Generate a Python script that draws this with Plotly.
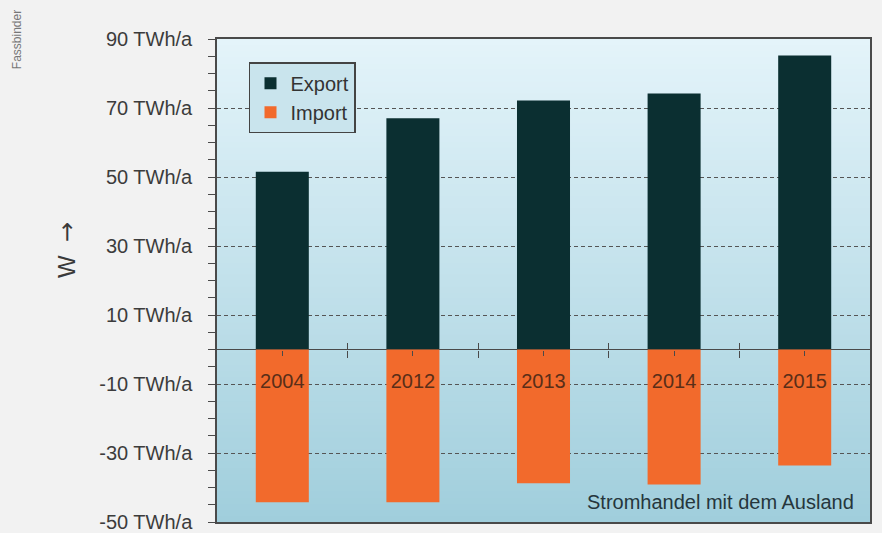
import plotly.graph_objects as go

years = ["2004", "2012", "2013", "2014", "2015"]
export_twh = [51.5, 67.0, 72.2, 74.2, 85.2]
import_twh = [-44.3, -44.3, -38.8, -39.1, -33.6]
ytick_vals = [90, 70, 50, 30, 10, -10, -30, -50]
ytick_text = ["%d TWh/a" % v for v in ytick_vals]
boundaries = [0.5, 1.5, 2.5, 3.5]

FONT = "Liberation Sans, Arial, Helvetica, sans-serif"
EXPORT_C = "#0b2f31"
IMPORT_C = "#f26a2c"
AX_C = "#4a4a4a"

ymin, ymax = -50, 90
zero_pos = (0 - ymin) / (ymax - ymin)

fig = go.Figure()
fig.add_trace(go.Bar(x=years, y=export_twh, name="Export",
                     marker=dict(color=EXPORT_C, line=dict(width=0))))
fig.add_trace(go.Bar(x=years, y=import_twh, name="Import",
                     marker=dict(color=IMPORT_C, line=dict(width=0))))
for ax in ["x2", "x3", "x4"]:
    fig.add_trace(go.Scatter(x=[], y=[], xaxis=ax, yaxis="y",
                             showlegend=False, hoverinfo="skip"))

# vertical gradient background of plot area
N = 80
top = (228, 244, 250)
bot = (160, 206, 220)
shapes = []
for i in range(N):
    t = (i + 0.5) / N  # 0 bottom -> 1 top
    c = tuple(int(round(bot[k] + (top[k] - bot[k]) * t)) for k in range(3))
    shapes.append(dict(type="rect", xref="paper", yref="paper",
                       x0=0, x1=1, y0=i / N, y1=(i + 1) / N + 0.002,
                       fillcolor="rgb(%d,%d,%d)" % c, line=dict(width=0),
                       layer="below"))

common_free = dict(overlaying="x", range=[-0.5, 4.5], anchor="free",
                   position=zero_pos, showline=False, showgrid=False,
                   zeroline=False, tickmode="array", tickvals=boundaries,
                   ticklen=7, tickcolor=AX_C, showticklabels=False,
                   automargin=False)

fig.update_layout(
    template="none",
    width=882, height=533,
    margin=dict(l=217, r=12, t=39, b=11, autoexpand=False),
    paper_bgcolor="#f2f2f2",
    plot_bgcolor="#c4e3ed",
    barmode="relative",
    bargap=0.594,
    shapes=shapes,
    font=dict(family=FONT, size=20, color="#3a3a3a"),
    showlegend=True,
    legend=dict(x=0.049, y=0.952, xanchor="left", yanchor="top",
                bgcolor="#c9e4ed", bordercolor="#444444", borderwidth=1.5,
                font=dict(size=20, color="#333333"), itemwidth=30,
                tracegroupgap=0),
    xaxis=dict(type="category", range=[-0.5, 4.5], anchor="free",
               position=zero_pos, showline=False, showgrid=False,
               zeroline=False,
               ticks="outside", ticklen=5, tickcolor=AX_C, tickwidth=1,
               tickfont=dict(size=20, color="#5a2e18"),
               ticklabelstandoff=8, fixedrange=True, automargin=False),
    xaxis2=dict(overlaying="x", range=[-0.5, 4.5], anchor="y",
                showline=True, mirror=True, linecolor=AX_C, linewidth=1.5,
                showgrid=False, zeroline=False, showticklabels=False,
                ticks="", automargin=False),
    xaxis3=dict(common_free, ticks="outside"),
    xaxis4=dict(common_free, ticks="inside"),
    yaxis=dict(range=[ymin, ymax], tickmode="array", tickvals=ytick_vals,
               ticktext=ytick_text, ticks="outside", ticklen=7,
               tickcolor=AX_C, showline=True, mirror=True, linecolor=AX_C,
               linewidth=1.5, showgrid=True, gridcolor="#555555",
               gridwidth=1, griddash="4px,3px",
               zeroline=True, zerolinecolor=AX_C, zerolinewidth=1,
               minor=dict(dtick=5, tick0=0, ticks="outside", ticklen=7,
                          tickcolor=AX_C, showgrid=False),
               tickfont=dict(size=20, color="#3c3c3c"),
               ticklabelstandoff=12, fixedrange=True, automargin=False),
    annotations=[
        dict(text="W  <span style=\"font-family:'DejaVu Sans'\">\u2192</span>",
             textangle=-90, xref="paper", yref="paper",
             x=-0.2297, y=0.563, xanchor="center", yanchor="middle",
             showarrow=False, font=dict(size=24, color="#3a3a3a")),
        dict(text="Fassbinder", textangle=-90, xref="paper", yref="paper",
             x=-0.306, y=0.998, xanchor="center", yanchor="middle",
             showarrow=False, font=dict(size=12, color="#777777")),
        dict(text="Stromhandel mit dem Ausland", xref="paper", yref="paper",
             x=0.979, y=0.041, xanchor="right", yanchor="middle",
             showarrow=False, font=dict(size=20, color="#26363c")),
    ],
)

fig.write_html("out.html")
